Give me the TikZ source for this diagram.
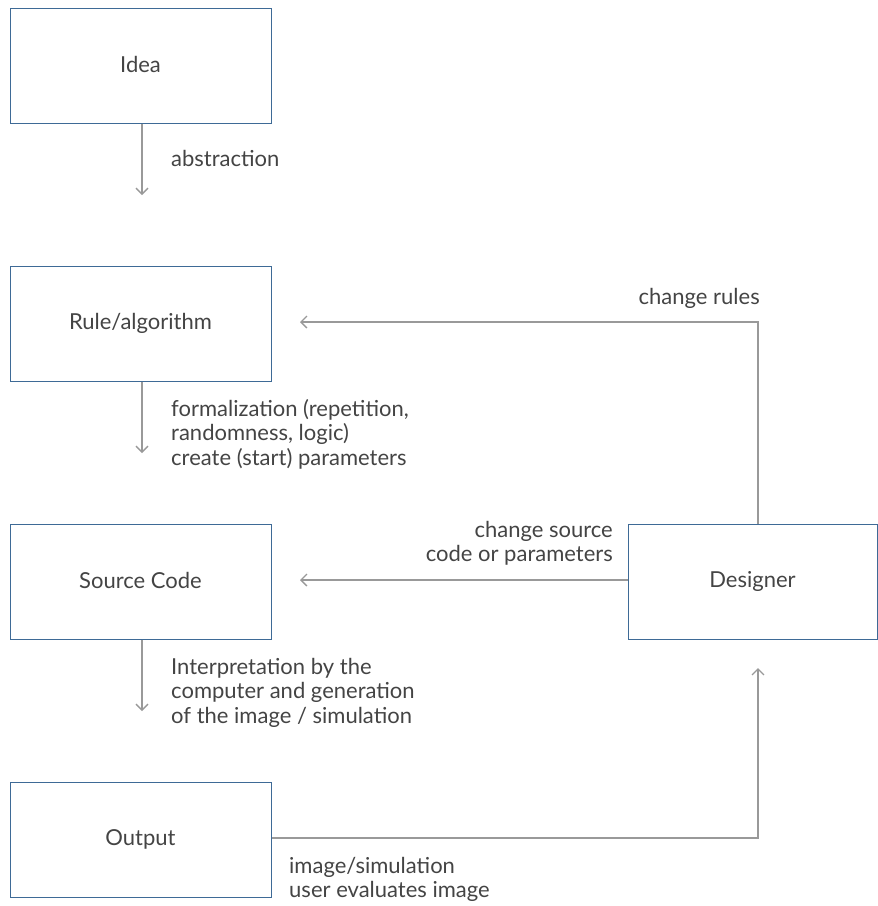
\documentclass[tikz,border=0pt]{standalone}
\usepackage{fontspec}
\setmainfont{Lato}
\usetikzlibrary{arrows.meta}
\definecolor{boxc}{HTML}{3E6A96}
\definecolor{txt}{HTML}{444444}
\definecolor{arr}{HTML}{999999}
\begin{document}
\begin{tikzpicture}[x=1pt,y=-1pt,
  box/.style={draw=boxc,line width=1pt,minimum width=261pt,minimum height=115pt,inner sep=0pt,text=txt,font=\fontsize{22}{25}\selectfont},
  lbl/.style={text=txt,font=\fontsize{22}{24.5}\selectfont,inner sep=0pt},
  conn/.style={draw=arr,line width=1.6pt,-{Straight Barb[length=6pt,width=12pt,line width=1.3pt]}}]
\useasboundingbox (0,0) rectangle (878,906);
\node[box] (idea) at (140.5,65.5) {\raisebox{3pt}{Idea}};
\node[box] (rule) at (140.5,323.5) {Rule/algorithm};
\node[box] (src) at (140.5,581.5) {\raisebox{1.5pt}{Source Code}};
\node[box] (out) at (140.5,839.5) {Output};
\node[box,minimum width=249pt] (des) at (752.5,581.5) {Designer};
\coordinate (e1) at (142,195);
\coordinate (e2) at (142,453);
\coordinate (e3) at (142,711);
\draw[conn] (idea.south -| e1) -- (e1);
\draw[conn] (rule.south -| e2) -- (e2);
\draw[conn] (src.south -| e3) -- (e3);
\coordinate (cr) at (758,322);
\coordinate (ar) at (300,322);
\draw[conn] (des.north -| cr) -- (cr) -- (ar);
\coordinate (as) at (300,580);
\draw[conn] (des.west |- as) -- (as);
\coordinate (co) at (758,838);
\coordinate (ao) at (758,668);
\draw[conn] (out.east |- co) -- (co) -- (ao);
\node[lbl,anchor=west] (l1) at (171,158) {abstraction};
\node[lbl,anchor=north west,align=left] (l2) at (171,399) {formalization (repetition,\\randomness, logic)\\create (start) parameters};
\node[lbl,anchor=north west,align=left] (l3) at (171,658) {Interpretation by the\\computer and generation\\of the image / simulation};
\node[lbl,anchor=east] (l4) at (760,298) {change rules};
\node[lbl,anchor=north east,align=right] (l5) at (613,521) {change source\\code or parameters};
\node[lbl,anchor=north west,align=left] (l6) at (289,857) {image/simulation\\user evaluates image};
\end{tikzpicture}
\end{document}
